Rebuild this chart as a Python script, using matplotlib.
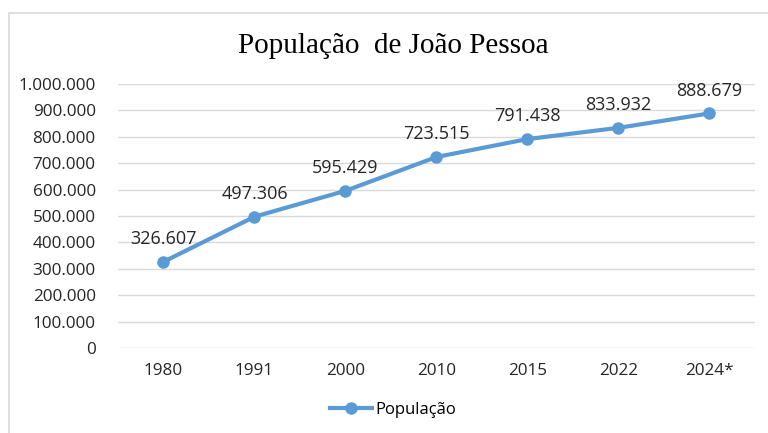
import matplotlib.pyplot as plt
from matplotlib.patches import Rectangle

anos = ['1980', '1991', '2000', '2010', '2015', '2022', '2024*']
populacao = [326607, 497306, 595429, 723515, 791438, 833932, 888679]
rotulos = ['326.607', '497.306', '595.429', '723.515', '791.438', '833.932', '888.679']

azul = '#5B9BD5'
plt.rcParams['font.family'] = ['Open Sans', 'DejaVu Sans']

fig = plt.figure(figsize=(7.68, 4.33), dpi=100)
ax = fig.add_axes([0.1536, 0.1963, 0.8294, 0.6097])

# borda do gráfico
fig.patches.append(Rectangle((9 / 768, -0.5), 1.5, 1.5 - 13 / 433,
                             transform=fig.transFigure, fill=False,
                             edgecolor='#D9D9D9', linewidth=1.2))

x = list(range(len(anos)))
ax.plot(x, populacao, color=azul, linewidth=3, marker='o', markersize=8,
        label='População')
for xi, yi, txt in zip(x, populacao, rotulos):
    ax.annotate(txt, (xi, yi), xytext=(0, 10), textcoords='offset points',
                ha='center', va='bottom', fontsize=13, color='#262626')

ax.set_xlim(-0.5, len(anos) - 0.5)
ax.set_ylim(0, 1000000)
ax.set_yticks(range(0, 1000001, 100000))
ax.set_yticklabels(['0' if v == 0 else f'{v:,}'.replace(',', '.') for v in range(0, 1000001, 100000)])
ax.set_xticks(x)
ax.set_xticklabels(anos)
ax.tick_params(length=0, labelsize=12.3, labelcolor='#262626')
ax.tick_params(axis='y', pad=16)
ax.tick_params(axis='x', pad=11)
ax.grid(axis='y', color='#D9D9D9', linewidth=1)
ax.set_axisbelow(True)
for s in ax.spines.values():
    s.set_visible(False)

fig.text(0.512, 0.893, 'População  de João Pessoa', ha='center', va='center',
         fontsize=21, family='Liberation Serif')

ax.legend(loc='center', bbox_to_anchor=(393 / 768, 23 / 433),
          bbox_transform=fig.transFigure, frameon=False, fontsize=12,
          handlelength=2.5, handletextpad=0.2)

fig.savefig('out.png', dpi=100)
